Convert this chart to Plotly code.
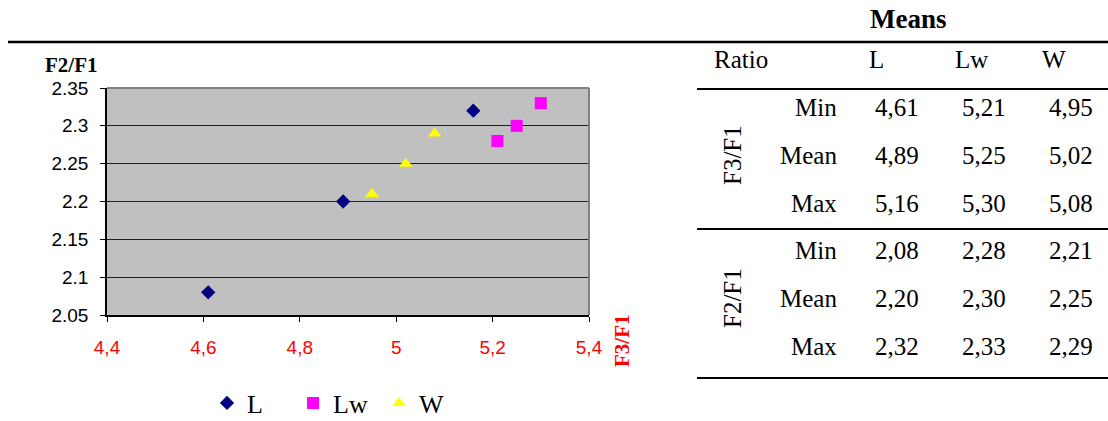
import plotly.graph_objects as go

# ---- data ----
groups = ["L", "Lw", "W"]
stats = ["Min", "Mean", "Max"]
ratios = ["F3/F1", "F2/F1"]
L_f3 = [4.61, 4.89, 5.16]
Lw_f3 = [5.21, 5.25, 5.30]
W_f3 = [4.95, 5.02, 5.08]
L_f2 = [2.08, 2.20, 2.32]
Lw_f2 = [2.28, 2.30, 2.33]
W_f2 = [2.21, 2.25, 2.29]
x_ticks = [4.4, 4.6, 4.8, 5.0, 5.2, 5.4]
x_ticktext = ["4,4", "4,6", "4,8", "5", "5,2", "5,4"]
y_ticks = [2.05, 2.1, 2.15, 2.2, 2.25, 2.3, 2.35]
y_ticktext = ["2.05", "2.1", "2.15", "2.2", "2.25", "2.3", "2.35"]

W_PX, H_PX = 1108, 421
PL, PR, PT, PB = 107, 589, 88, 315
SERIF = "Liberation Serif, Times New Roman, serif"
SANS = "Liberation Sans, Arial, sans-serif"

styles = {
    "L": dict(symbol="diamond", color="#000080", size=11),
    "Lw": dict(symbol="square", color="#FF00FF", size=12),
    "W": dict(symbol="triangle-up", color="#FFFF00", size=12),
}
xs = {"L": L_f3, "Lw": Lw_f3, "W": W_f3}
ys = {"L": L_f2, "Lw": Lw_f2, "W": W_f2}

fig = go.Figure()
for g in groups:
    st = styles[g]
    fig.add_trace(go.Scatter(
        x=xs[g], y=ys[g], mode="markers", name=g,
        marker=dict(symbol=st["symbol"], color=st["color"], size=st["size"],
                    line=dict(width=0)),
    ))


def px(x):
    return (x - PL) / (PR - PL)


def py(y):
    return (PB - y) / (PB - PT)


annotations = []
shapes = []


def ann(x, y, text, font, xanchor="center", angle=0):
    annotations.append(dict(x=px(x), y=py(y), xref="paper", yref="paper", text=text,
                            xanchor=xanchor, yanchor="middle", textangle=angle,
                            showarrow=False, font=font))


# axis titles
ann(71, 65, "<b>F2/F1</b>", dict(family=SERIF, size=21, color="black"))
ann(622, 341, "<b>F3/F1</b>", dict(family=SERIF, size=21, color="#FF0000"), angle=-90)

# plot top/right border (gray)
shapes.append(dict(type="line", xref="x domain", yref="y domain", x0=0, x1=1, y0=1, y1=1,
                   line=dict(color="#808080", width=2)))
shapes.append(dict(type="line", xref="x domain", yref="y domain", x0=1, x1=1, y0=0, y1=1,
                   line=dict(color="#808080", width=2)))

# ---- table ----
tfont = dict(family=SERIF, size=25, color="black")
ann(908, 19, "<b>Means</b>", dict(family=SERIF, size=27, color="black"))
ann(712, 60, "Ratio", tfont, xanchor="left")
header_left = [867, 953, 1040]
val_center = [897, 984, 1071]
for g, xl in zip(groups, header_left):
    ann(xl, 60, g, tfont, xanchor="left")

table_vals = {
    "F3/F1": [L_f3, Lw_f3, W_f3],
    "F2/F1": [L_f2, Lw_f2, W_f2],
}
row_y = [[107, 155, 203], [250, 298, 346]]
for ri, r in enumerate(ratios):
    ann(732, row_y[ri][1], r, tfont, angle=-90)
    for si, s in enumerate(stats):
        yy = row_y[ri][si]
        ann(839, yy, s, tfont, xanchor="right")
        for gi in range(3):
            v = table_vals[r][gi][si]
            ann(val_center[gi], yy, f"{v:.2f}".replace(".", ","), tfont)


def hline(y, x0, x1, w=2):
    shapes.append(dict(type="line", xref="paper", yref="paper", x0=px(x0), x1=px(x1),
                       y0=py(y), y1=py(y), line=dict(color="black", width=w)))


hline(42, 8, 1108, 2.5)
hline(89, 697, 1108, 2)
hline(229, 697, 1108, 2)
hline(378, 697, 1108, 2)

fig.update_layout(
    width=W_PX, height=H_PX,
    margin=dict(l=PL, r=W_PX - PR, t=PT, b=H_PX - PB, pad=0, autoexpand=False),
    paper_bgcolor="white", plot_bgcolor="#C0C0C0",
    showlegend=True,
    legend=dict(orientation="h", x=px(207), xanchor="left", y=py(403), yanchor="middle",
                font=dict(family=SERIF, size=26, color="black"),
                entrywidth=41, entrywidthmode="pixels", itemwidth=30,
                bgcolor="rgba(0,0,0,0)", tracegroupgap=0),
    annotations=annotations, shapes=shapes,
    xaxis=dict(range=[4.4, 5.4], tickvals=x_ticks, ticktext=x_ticktext,
               showgrid=False, zeroline=False, showline=True, linecolor="black", linewidth=1.5,
               ticks="outside", ticklen=5, tickcolor="black", tickwidth=1,
               tickfont=dict(family=SANS, size=19, color="#FF0000"), ticklabelstandoff=9),
    yaxis=dict(range=[2.05, 2.35], tickvals=y_ticks, ticktext=y_ticktext,
               showgrid=True, gridcolor="#202020", gridwidth=1, zeroline=False,
               showline=True, linecolor="black", linewidth=1.5,
               ticks="outside", ticklen=5, tickcolor="black", tickwidth=1,
               tickfont=dict(family=SANS, size=19, color="black"), ticklabelstandoff=8),
)

fig.write_html("out.html", config={"displayModeBar": False},
               post_script="document.body.style.margin='0';")
